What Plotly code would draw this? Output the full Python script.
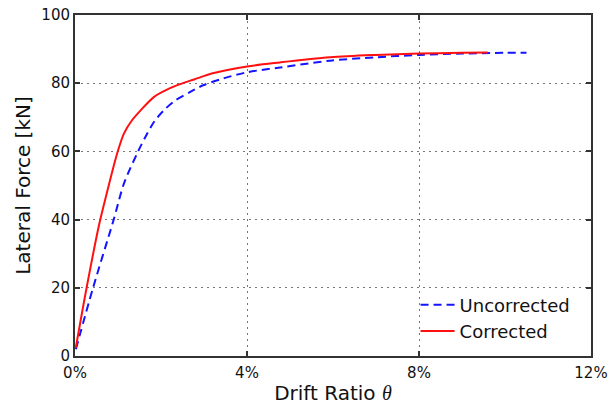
import plotly.graph_objects as go

# Drift ratio (%) and lateral force (kN) for the corrected response
corrected_drift = [0.02, 0.27, 0.56, 0.75, 0.98, 1.14, 1.33, 1.53, 1.84, 2.15, 2.46, 2.77,
                   3.2, 4.0, 4.77, 5.93, 7.0, 8.0, 9.0, 9.6]
corrected_force = [2.5, 20.0, 38.5, 48.3, 59.4, 65.3, 69.2, 72.1, 76.0, 78.2, 79.8, 81.1,
                   82.9, 84.9, 86.1, 87.6, 88.3, 88.7, 88.9, 89.0]

# Drift ratio (%) and lateral force (kN) for the uncorrected response
uncorrected_drift = [0.02, 0.42, 0.9, 1.14, 1.46, 1.64, 1.84, 2.07, 2.34, 2.69, 2.98, 3.4,
                     4.0, 4.77, 5.93, 7.0, 8.0, 9.0, 10.0, 10.5]
uncorrected_force = [2.0, 20.0, 40.0, 50.6, 59.8, 64.3, 68.7, 72.1, 75.0, 77.5, 79.4, 81.2,
                     83.2, 84.6, 86.6, 87.6, 88.3, 88.7, 88.9, 88.9]

x_ticks = [0, 4, 8, 12]
x_tick_labels = ["0%", "4%", "8%", "12%"]
y_ticks = [0, 20, 40, 60, 80, 100]

font_family = "DejaVu Sans"

fig = go.Figure()
fig.add_trace(go.Scatter(
    x=uncorrected_drift, y=uncorrected_force, mode="lines", name="Uncorrected",
    line=dict(color="#1414ff", width=2, dash="8px,5px", shape="spline", smoothing=0.9),
))
fig.add_trace(go.Scatter(
    x=corrected_drift, y=corrected_force, mode="lines", name="Corrected",
    line=dict(color="#ff1010", width=2, shape="spline", smoothing=0.9),
))

axis_common = dict(
    showline=True, linecolor="#333333", linewidth=2, mirror="ticks",
    ticks="inside", ticklen=5, tickwidth=1.5, tickcolor="#333333",
    showgrid=True, gridcolor="#777777", griddash="2px,4px", gridwidth=1,
    zeroline=False, automargin=False,
    tickfont=dict(family=font_family, size=15, color="#111111"),
)

fig.update_layout(
    width=614, height=405,
    margin=dict(l=75, r=23, t=15, b=49),
    paper_bgcolor="white", plot_bgcolor="white",
    font=dict(family=font_family, color="#111111"),
    xaxis=dict(range=[0, 12], tickvals=x_ticks, ticktext=x_tick_labels,
               ticklabelstandoff=2,
               title=dict(text="Drift Ratio <span style='font-family:Liberation Serif'><i>θ</i></span>",
                          font=dict(size=20), standoff=9),
               **axis_common),
    yaxis=dict(range=[0, 100], tickvals=y_ticks,
               title=dict(text="Lateral Force [kN]", font=dict(size=20), standoff=5),
               **axis_common),
    legend=dict(x=0.66, y=0.204, xanchor="left", yanchor="top",
                bgcolor="rgba(0,0,0,0)", font=dict(size=18, family=font_family),
                itemwidth=34, tracegroupgap=0),
    showlegend=True,
)

fig.write_html("out.html")
